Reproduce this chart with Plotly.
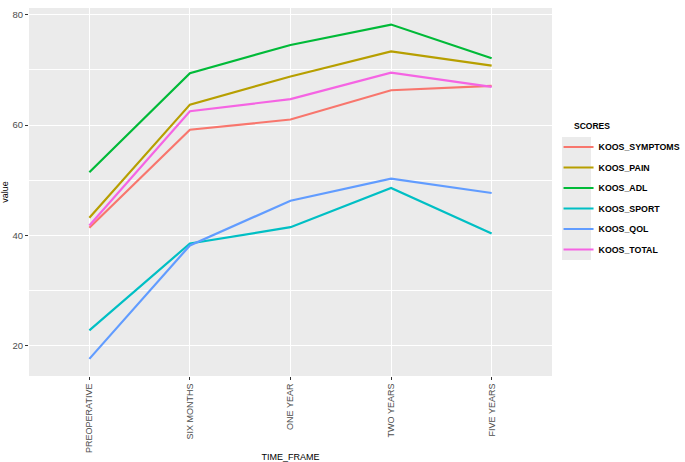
import plotly.graph_objects as go

time_frames = ["PREOPERATIVE", "SIX MONTHS", "ONE YEAR", "TWO YEARS", "FIVE YEARS"]
koos_symptoms = [41.4, 59.15, 61.0, 66.3, 67.1]
koos_pain = [43.2, 63.7, 68.8, 73.35, 70.75]
koos_adl = [51.45, 69.4, 74.5, 78.2, 72.1]
koos_sport = [22.8, 38.55, 41.5, 48.6, 40.35]
koos_qol = [17.65, 38.2, 46.3, 50.3, 47.7]
koos_total = [41.8, 62.5, 64.7, 69.5, 66.9]

series = [
    ("KOOS_SYMPTOMS", koos_symptoms, "#F8766D"),
    ("KOOS_PAIN", koos_pain, "#B79F00"),
    ("KOOS_ADL", koos_adl, "#00BA38"),
    ("KOOS_SPORT", koos_sport, "#00BFC4"),
    ("KOOS_QOL", koos_qol, "#619CFF"),
    ("KOOS_TOTAL", koos_total, "#F564E3"),
]

fig = go.Figure()
for name, vals, col in series:
    fig.add_trace(go.Scatter(
        x=time_frames, y=vals, mode="lines", name=name,
        line=dict(color=col, width=2.2),
        legendgroup=name,
    ))

# grey background behind the legend keys (ggplot style)
fig.add_shape(type="rect", xref="paper", yref="paper",
              x0=1.0191, x1=1.0746, y0=0.3152, y1=0.6495,
              fillcolor="#EBEBEB", line=dict(width=0), layer="below")

# legend title
fig.add_annotation(text="<b>SCORES</b>", xref="paper", yref="paper",
                   x=1.0382, y=0.6793, xanchor="left", yanchor="middle",
                   showarrow=False, font=dict(size=8.5, color="black"))

fig.update_layout(
    width=685, height=462,
    margin=dict(l=29, r=133, t=8, b=86, autoexpand=False),
    paper_bgcolor="white",
    plot_bgcolor="#EBEBEB",
    font=dict(family="Liberation Sans, Arial, sans-serif", size=9, color="#4D4D4D"),
    showlegend=True,
    legend=dict(
        font=dict(size=8.8, color="black", weight="bold"),
        x=1.0125, xanchor="left", y=0.6617, yanchor="top",
        bgcolor="rgba(0,0,0,0)",
        tracegroupgap=1.5,
        itemwidth=30,
    ),
    xaxis=dict(
        type="category",
        range=[-0.6, 4.6],
        tickangle=-90,
        showgrid=True, gridcolor="white", gridwidth=1,
        ticks="outside", ticklen=3, tickcolor="#333333", tickwidth=1,
        tickfont=dict(size=9, color="#4D4D4D"),
        title=dict(text="TIME_FRAME", font=dict(size=9, color="black"), standoff=7),
        zeroline=False, showline=False,
        automargin=False,
    ),
    yaxis=dict(
        range=[14.55, 81.2],
        tickvals=[20, 40, 60, 80],
        showgrid=True, gridcolor="white", gridwidth=1,
        minor=dict(tickvals=[30, 50, 70], showgrid=True, gridcolor="white", gridwidth=0.5, ticks=""),
        ticks="outside", ticklen=3, tickcolor="#333333", tickwidth=1,
        tickfont=dict(size=9.5, color="#4D4D4D"),
        title=dict(text="value", font=dict(size=9, color="black"), standoff=6),
        zeroline=False, showline=False,
        automargin=False,
    ),
)

fig.write_html("out.html", config={"displayModeBar": False},
               post_script="document.body.style.margin='0';")
